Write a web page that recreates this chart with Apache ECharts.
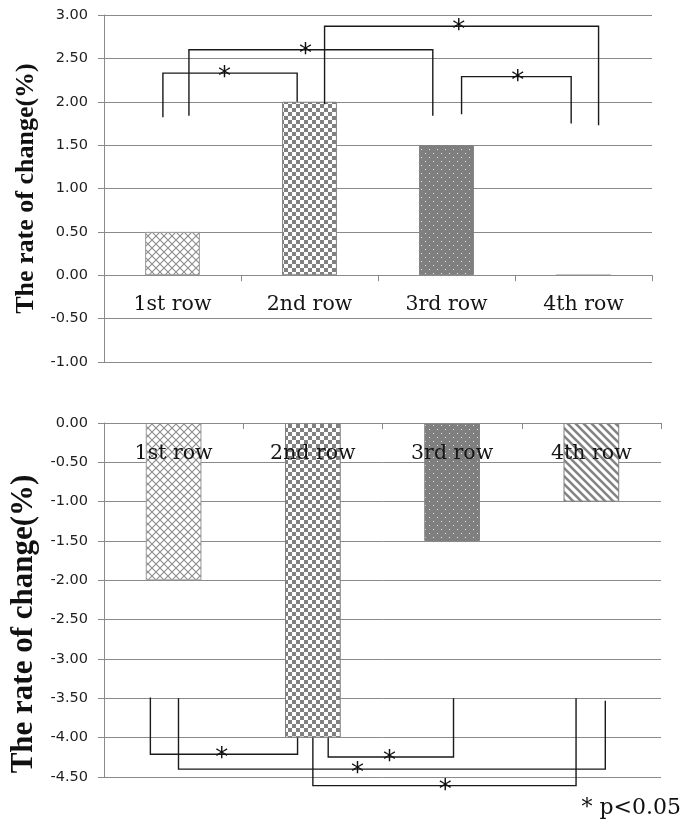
<!DOCTYPE html>
<html>
<head>
<meta charset="utf-8">
<script src="https://cdn.jsdelivr.net/npm/echarts@6/dist/echarts.min.js"></script>
<style>
html,body{margin:0;padding:0;background:#fff;}
#chart{width:684px;height:830px;}
</style>
</head>
<body>
<div id="chart"></div>
<script>
// ---- data ----
const categories = ['1st row', '2nd row', '3rd row', '4th row'];
const topValues = [0.5, 2.0, 1.5, 0];
const bottomValues = [-2.0, -4.0, -1.5, -1.0];
const topAxisMin = -1, topAxisMax = 3, topAxisStep = 0.5;
const bottomAxisMin = -4.5, bottomAxisMax = 0, bottomAxisStep = 0.5;
const yTitle = 'The rate of change(%)';
const footnote = '* p<0.05';
// significance brackets: [xLeft, yLeftEnd, xRight, yRightEnd, yBar, xStar] in category units / data values
const topBrackets = [
  [0.43, 1.82, 1.41, 2.00, 2.33, 0.88],
  [0.62, 1.84, 2.40, 1.84, 2.60, 1.47],
  [1.61, 1.97, 3.61, 1.73, 2.87, 2.59],
  [2.61, 1.855, 3.41, 1.75, 2.29, 3.02]
];
const bottomBrackets = [
  [0.333, -3.49, 1.39, -4.0, -4.21, 0.845],
  [0.535, -3.50, 3.60, -3.53, -4.40, 1.82],
  [1.61, -4.0, 2.51, -3.50, -4.245, 2.05],
  [1.50, -4.0, 3.39, -3.50, -4.61, 2.45]
];

// ---- layout ----
const topGrid = { left: 104, top: 15, width: 548, height: 347 };
const bottomGrid = { left: 104, top: 423, width: 557, height: 354 };

// ---- patterns ----
function makeCanvas(w, h, bg) {
  const c = document.createElement('canvas');
  c.width = w; c.height = h;
  const ctx = c.getContext('2d');
  ctx.fillStyle = bg; ctx.fillRect(0, 0, w, h);
  return [c, ctx];
}
function crossHatch() {
  const [c, ctx] = makeCanvas(8, 8, '#ffffff');
  ctx.strokeStyle = '#8c8c8c'; ctx.lineWidth = 1.1;
  ctx.beginPath();
  ctx.moveTo(0, 0); ctx.lineTo(8, 8);
  ctx.moveTo(8, 0); ctx.lineTo(0, 8);
  ctx.stroke();
  return c;
}
function checker() {
  const [c, ctx] = makeCanvas(8, 8, '#ffffff');
  ctx.fillStyle = '#808080';
  ctx.fillRect(0, 0, 4, 4); ctx.fillRect(4, 4, 4, 4);
  return c;
}
function dots() {
  const [c, ctx] = makeCanvas(8, 8, '#7f7f7f');
  ctx.fillStyle = '#e6e6e6';
  ctx.fillRect(1, 1, 1, 1); ctx.fillRect(5, 5, 1, 1);
  return c;
}
function stripes() {
  const [c, ctx] = makeCanvas(8, 8, '#ffffff');
  ctx.strokeStyle = '#858585'; ctx.lineWidth = 2.6;
  ctx.beginPath();
  for (let k = -8; k <= 8; k += 8) { ctx.moveTo(k - 2, -2); ctx.lineTo(k + 10, 10); }
  ctx.stroke();
  return c;
}
const patterns = [crossHatch(), checker(), dots(), stripes()];
const borders = ['#9a9a9a', '#808080', '#7f7f7f', '#808080'];

function barData(values) {
  return values.map((v, i) => ({
    value: v,
    itemStyle: { color: { image: patterns[i], repeat: 'repeat' }, borderColor: borders[i], borderWidth: 1 }
  }));
}

function bracketRender(params, api) {
  const x1 = api.value(0), y1 = api.value(1), x2 = api.value(2), y2 = api.value(3), yb = api.value(4), xs = api.value(5);
  const a = api.coord([x1, y1]), b = api.coord([x1, yb]), c = api.coord([x2, yb]), d = api.coord([x2, y2]);
  const s = api.coord([xs, yb]);
  const fs = 26;
  return {
    type: 'group',
    children: [
      { type: 'polyline', shape: { points: [a, b, c, d] }, style: { stroke: '#1a1a1a', lineWidth: 1.4, fill: null } },
      { type: 'text', x: s[0], y: s[1] + fs * 0.2, style: { text: '*', font: fs + 'px "DejaVu Sans"', fill: '#111', align: 'center', verticalAlign: 'middle' }, z2: 5 }
    ]
  };
}

const gridCol = '#8a8a8a';
// category axis drawn on the zero line of the value axis
function catAxis(gi, grid, min, max) {
  const zeroFromBottom = grid.height * (0 - min) / (max - min);
  const atTop = max === 0;
  return {
    type: 'category', gridIndex: gi, data: categories, z: 5,
    position: atTop ? 'top' : 'bottom',
    offset: atTop ? 0 : -zeroFromBottom,
    axisLine: { onZero: false, lineStyle: { color: gridCol, width: 1 } },
    axisTick: { show: true, inside: atTop, length: 6, lineStyle: { color: gridCol } },
    axisLabel: { inside: atTop, fontFamily: 'DejaVu Serif', fontSize: 20.5, color: '#151515', margin: atTop ? 20 : 19 },
    splitLine: { show: false }
  };
}
function valAxis(gi, min, max, step, nameSize, gap, pad) {
  return {
    type: 'value', gridIndex: gi, min: min, max: max, interval: step,
    axisLine: { show: true, onZero: false, lineStyle: { color: gridCol } },
    axisTick: { show: true, length: 6, lineStyle: { color: gridCol } },
    axisLabel: { formatter: v => v.toFixed(2), fontFamily: 'DejaVu Sans', fontSize: 14.5, color: '#1e1e1e', margin: 16 },
    splitLine: { show: true, lineStyle: { color: gridCol, width: 1 } },
    name: yTitle, nameLocation: 'middle', nameGap: gap,
    nameTextStyle: { fontFamily: 'Liberation Serif', fontWeight: 'bold', fontSize: nameSize, color: '#111', padding: pad }
  };
}

const chart = echarts.init(document.getElementById('chart'), null, { renderer: 'canvas' });
chart.setOption({
  animation: false,
  backgroundColor: '#ffffff',
  grid: [topGrid, bottomGrid],
  xAxis: [
    catAxis(0, topGrid, topAxisMin, topAxisMax),
    catAxis(1, bottomGrid, bottomAxisMin, bottomAxisMax),
    { type: 'value', gridIndex: 0, min: 0, max: 4, show: false },
    { type: 'value', gridIndex: 1, min: 0, max: 4, show: false }
  ],
  yAxis: [
    valAxis(0, topAxisMin, topAxisMax, topAxisStep, 26, 63, [0, 0, 0, 0]),
    valAxis(1, bottomAxisMin, bottomAxisMax, bottomAxisStep, 31, 63, [0, 48, 0, 0])
  ],
  series: [
    { type: 'bar', xAxisIndex: 0, yAxisIndex: 0, barWidth: '40%', data: barData(topValues), z: 2 },
    { type: 'bar', xAxisIndex: 1, yAxisIndex: 1, barWidth: '40%', data: barData(bottomValues), z: 2 },
    { type: 'custom', xAxisIndex: 2, yAxisIndex: 0, data: topBrackets, renderItem: bracketRender, clip: false, z: 8, silent: true },
    { type: 'custom', xAxisIndex: 3, yAxisIndex: 1, data: bottomBrackets, renderItem: bracketRender, clip: false, z: 8, silent: true }
  ],
  graphic: [
    { type: 'text', right: 3, top: 797, style: { text: footnote, font: '22px "DejaVu Serif"', fill: '#111' } }
  ]
});
</script>
</body>
</html>
